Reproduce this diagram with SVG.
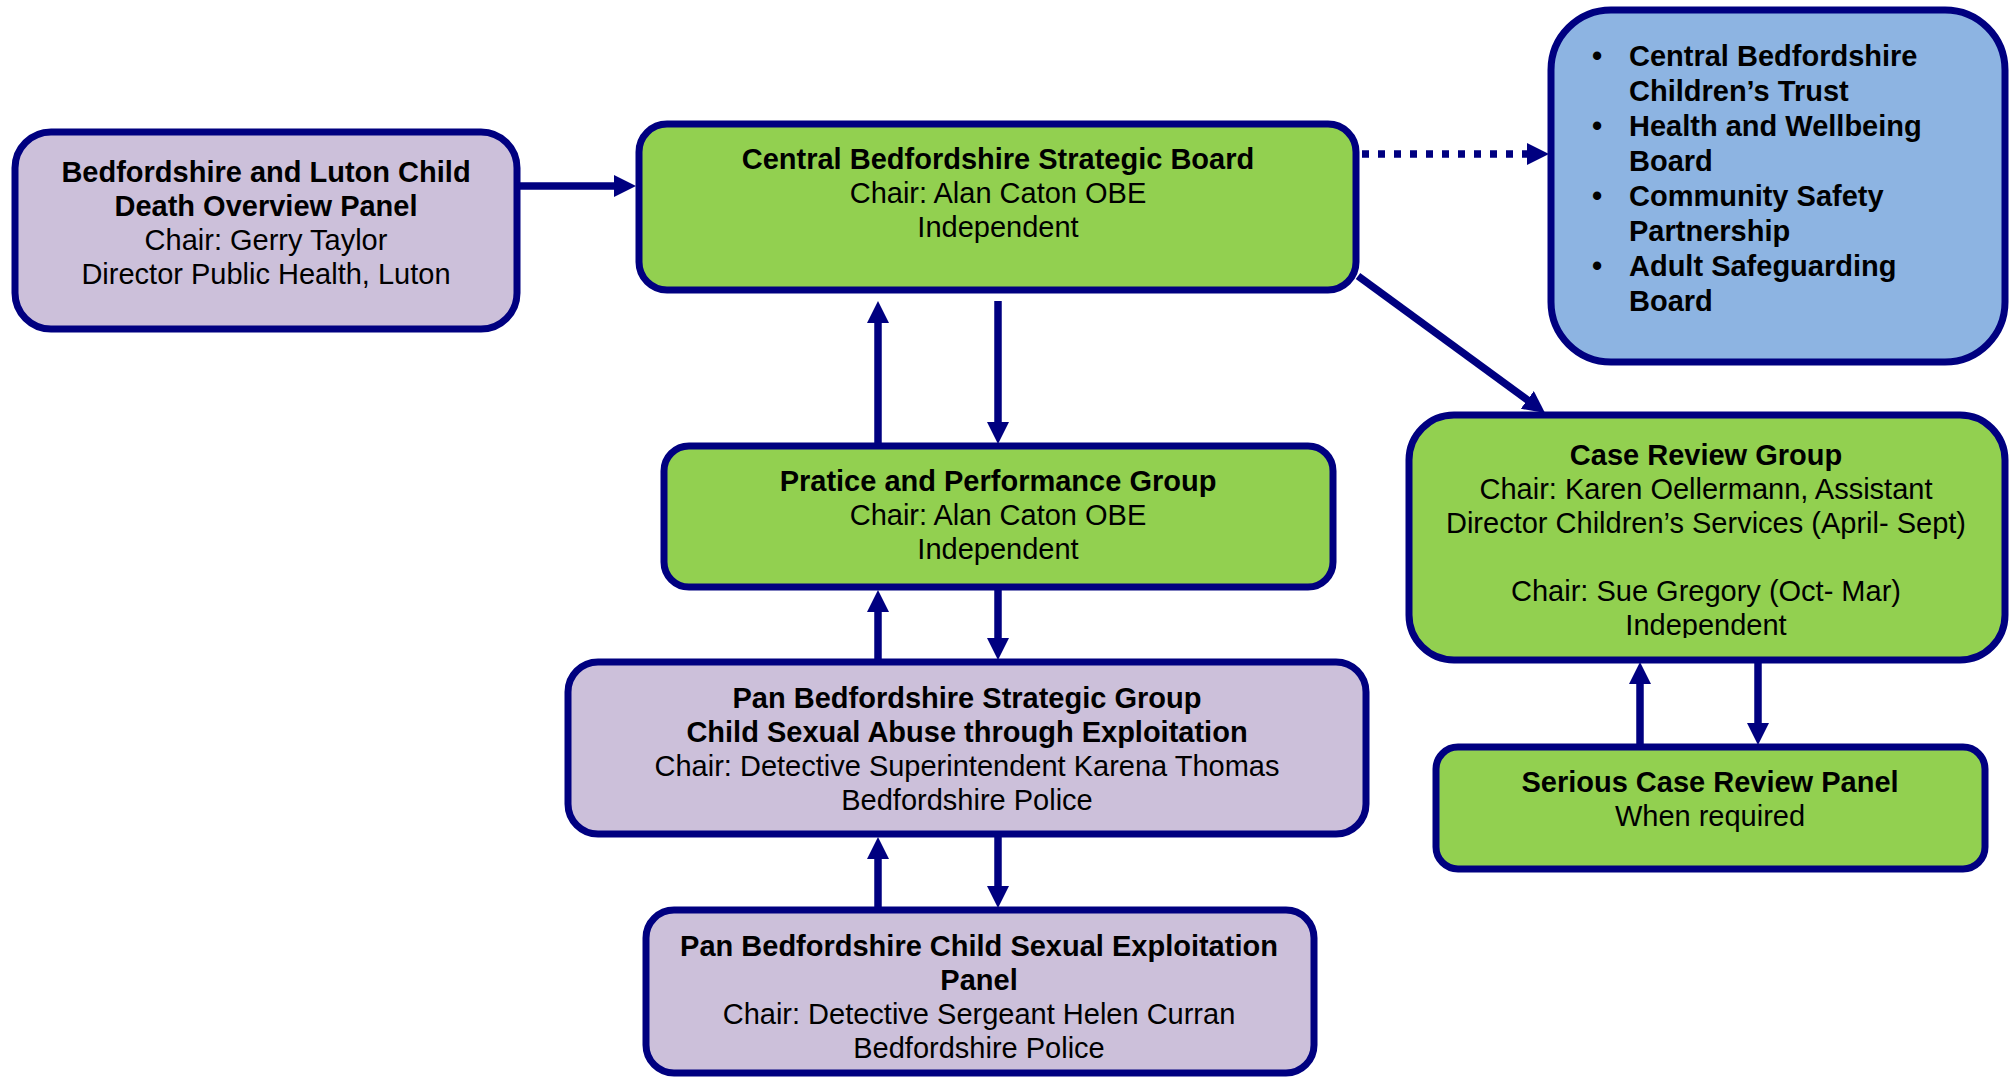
<svg xmlns="http://www.w3.org/2000/svg" width="2011" height="1077" viewBox="0 0 2011 1077">
<style>
.box{stroke:#000080;stroke-width:7}
.g{fill:#92D050}
.p{fill:#CCC0DA}
.b{fill:#8DB4E2}
text{font-family:"Liberation Sans",Arial,sans-serif;font-size:29px;fill:#000}
.c{text-anchor:middle}
.bd{font-weight:bold}
.con{stroke:#000080;stroke-width:7.5;fill:none}
</style>
<defs>
<marker id="ah" markerUnits="userSpaceOnUse" markerWidth="24" markerHeight="24" refX="12" refY="11" orient="auto" viewBox="0 0 24 24">
<path d="M0,0 L22,11 L0,22 z" fill="#000080"/>
</marker>
<clipPath id="clipD"><rect x="1410" y="416" width="594" height="222"/></clipPath>
</defs>
<rect width="2011" height="1077" fill="#fff"/>

<g id="connectors">
<line class="con" x1="519" y1="186" x2="626" y2="186" marker-end="url(#ah)"/>
<line class="con" x1="1362" y1="154" x2="1539" y2="154" stroke-width="7" stroke-dasharray="7 9" marker-end="url(#ah)"/>
<line class="con" x1="1358" y1="276" x2="1537" y2="407" marker-end="url(#ah)"/>
<line class="con" x1="878" y1="444" x2="878" y2="311" marker-end="url(#ah)"/>
<line class="con" x1="998" y1="301" x2="998" y2="434" marker-end="url(#ah)"/>
<line class="con" x1="878" y1="660" x2="878" y2="600" marker-end="url(#ah)"/>
<line class="con" x1="998" y1="590" x2="998" y2="650" marker-end="url(#ah)"/>
<line class="con" x1="878" y1="908" x2="878" y2="847" marker-end="url(#ah)"/>
<line class="con" x1="998" y1="837" x2="998" y2="898" marker-end="url(#ah)"/>
<line class="con" x1="1640" y1="745" x2="1640" y2="672" marker-end="url(#ah)"/>
<line class="con" x1="1758" y1="662" x2="1758" y2="735" marker-end="url(#ah)"/>
</g>

<g id="node-cdop">
<rect class="box p" x="15" y="132" width="502" height="197" rx="36"/>
<text class="c bd" x="266" y="182">Bedfordshire and Luton Child</text>
<text class="c bd" x="266" y="216">Death Overview Panel</text>
<text class="c" x="266" y="250">Chair: Gerry Taylor</text>
<text class="c" x="266" y="284">Director Public Health, Luton</text>
</g>

<g id="node-board">
<rect class="box g" x="639" y="124" width="717" height="166" rx="28"/>
<text class="c bd" x="998" y="169">Central Bedfordshire Strategic Board</text>
<text class="c" x="998" y="203">Chair: Alan Caton OBE</text>
<text class="c" x="998" y="237">Independent</text>
</g>

<g id="node-partners">
<rect class="box b" x="1551" y="10" width="454" height="352" rx="60"/>
<text class="c bd" x="1597" y="66">•</text>
<text class="bd" x="1629" y="66">Central Bedfordshire</text>
<text class="bd" x="1629" y="101">Children’s Trust</text>
<text class="c bd" x="1597" y="136">•</text>
<text class="bd" x="1629" y="136">Health and Wellbeing</text>
<text class="bd" x="1629" y="171">Board</text>
<text class="c bd" x="1597" y="206">•</text>
<text class="bd" x="1629" y="206">Community Safety</text>
<text class="bd" x="1629" y="241">Partnership</text>
<text class="c bd" x="1597" y="276">•</text>
<text class="bd" x="1629" y="276">Adult Safeguarding</text>
<text class="bd" x="1629" y="311">Board</text>
</g>

<g id="node-case-review">
<rect class="box g" x="1409" y="415" width="596" height="245" rx="45"/>
<text class="c bd" x="1706" y="465">Case Review Group</text>
<text class="c" x="1706" y="499">Chair: Karen Oellermann, Assistant</text>
<text class="c" x="1706" y="533">Director Children’s Services (April- Sept)</text>
<text class="c" x="1706" y="601">Chair: Sue Gregory (Oct- Mar)</text>
<text class="c" x="1706" y="635" clip-path="url(#clipD)">Independent</text>
</g>

<g id="node-scr">
<rect class="box g" x="1436" y="747" width="549" height="122" rx="22"/>
<text class="c bd" x="1710" y="792">Serious Case Review Panel</text>
<text class="c" x="1710" y="826">When required</text>
</g>

<g id="node-practice">
<rect class="box g" x="664" y="446" width="669" height="141" rx="25"/>
<text class="c bd" x="998" y="491">Pratice and Performance Group</text>
<text class="c" x="998" y="525">Chair: Alan Caton OBE</text>
<text class="c" x="998" y="559">Independent</text>
</g>

<g id="node-pan-strategic">
<rect class="box p" x="568" y="662" width="798" height="172" rx="30"/>
<text class="c bd" x="967" y="708">Pan Bedfordshire Strategic Group</text>
<text class="c bd" x="967" y="742">Child Sexual Abuse through Exploitation</text>
<text class="c" x="967" y="776">Chair: Detective Superintendent Karena Thomas</text>
<text class="c" x="967" y="810">Bedfordshire Police</text>
</g>

<g id="node-cse-panel">
<rect class="box p" x="646" y="910" width="668" height="163" rx="28"/>
<text class="c bd" x="979" y="956">Pan Bedfordshire Child Sexual Exploitation</text>
<text class="c bd" x="979" y="990">Panel</text>
<text class="c" x="979" y="1024">Chair: Detective Sergeant Helen Curran</text>
<text class="c" x="979" y="1058">Bedfordshire Police</text>
</g>
</svg>
